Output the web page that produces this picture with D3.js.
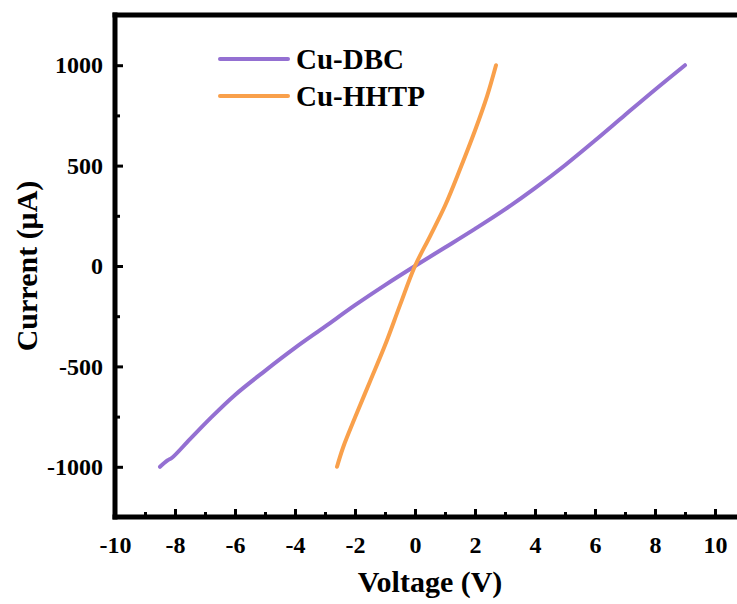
<!DOCTYPE html>
<html>
<head>
<meta charset="utf-8">
<script src="https://cdn.jsdelivr.net/npm/d3@7"></script>
<style>
    body { margin: 0; background: #fff; }
    text { font-family: "Liberation Serif", "Times New Roman", serif; font-weight: bold; fill: #000; }
</style>
</head>
<body>
<div class="box"></div>
<script>
// Cu-DBC
let dbcV = [-8.5, -8.25, -8.1, -7.5, -6.8, -6, -5, -4, -3, -2, -1, 0, 1, 2, 3, 4, 5, 6, 7, 8, 9]
let dbcI = [-1000, -968, -955, -862, -755, -642, -522, -408, -302, -195, -95, 0, 92, 185, 282, 388, 502, 625, 752, 878, 1000]

// Cu-HHTP
let hhtpV = [-2.6, -2.4, -2, -1.5, -1, -0.5, 0, 0.5, 1, 1.5, 2, 2.4, 2.7]
let hhtpI = [-1000, -905, -755, -575, -395, -195, 0, 148, 300, 482, 675, 845, 1000]

let xMajor = [-10, -8, -6, -4, -2, 0, 2, 4, 6, 8, 10]
let xMinor = [-9, -7, -5, -3, -1, 1, 3, 5, 7, 9]
let yMajor = [-1000, -500, 0, 500, 1000]
let yMinor = [-750, -250, 250, 750]

let seriesNames = ['Cu-DBC', 'Cu-HHTP']
let colors = ['#9470d2', '#f9a04b']

let serif = '"Liberation Serif", "Times New Roman", serif'

let W = 737, H = 604
let svg = d3.select('.box')
    .append('svg')
    .attr('width', W)
    .attr('height', H)

let x = d3.scaleLinear().domain([-10, 11]).range([115, 745])
let y = d3.scaleLinear().domain([-1250, 1250]).range([517, 15])

let fs = 24

// ticks, inward
let tickStyle = (g) => {
    g.attr('font-family', serif)
    g.select('.domain').remove()
    g.selectAll('.tick line').attr('stroke', '#000').attr('stroke-width', 3)
    g.selectAll('.tick text')
        .style('font-family', serif)
        .style('font-weight', 'bold')
        .style('font-size', fs + 'px')
        .attr('fill', '#000')
}

svg.append('g')
    .attr('transform', `translate(0,${y(-1250)})`)
    .call(d3.axisBottom(x).tickValues(xMajor).tickSizeInner(-8).tickSizeOuter(0).tickPadding(19).tickFormat(d => String(d)))
    .call(tickStyle)

svg.append('g')
    .attr('transform', `translate(0,${y(-1250)})`)
    .call(d3.axisBottom(x).tickValues(xMinor).tickSizeInner(-5).tickSizeOuter(0).tickFormat(''))
    .call(tickStyle)

svg.append('g')
    .attr('transform', `translate(${x(-10)},0)`)
    .call(d3.axisLeft(y).tickValues(yMajor).tickSizeInner(-8).tickSizeOuter(0).tickPadding(12).tickFormat(d => String(d)))
    .call(tickStyle)

svg.append('g')
    .attr('transform', `translate(${x(-10)},0)`)
    .call(d3.axisLeft(y).tickValues(yMinor).tickSizeInner(-5).tickSizeOuter(0).tickFormat(''))
    .call(tickStyle)

// frame
let frame = [
    [x(-10), y(-1250), x(11), y(-1250)],
    [x(-10), y(-1250), x(-10), y(1250)],
    [x(-10), y(1250), x(11), y(1250)],
    [x(11), y(-1250), x(11), y(1250)],
]
frame.forEach(f => {
    svg.append('line')
        .attr('x1', f[0]).attr('y1', f[1])
        .attr('x2', f[2]).attr('y2', f[3])
        .attr('stroke', '#000')
        .attr('stroke-width', 5)
        .attr('stroke-linecap', 'square')
})

// curves
let line = d3.line()
    .x(d => x(d[0]))
    .y(d => y(d[1]))
    .curve(d3.curveCatmullRom.alpha(0.5))

let series = [
    d3.zip(dbcV, dbcI),
    d3.zip(hhtpV, hhtpI),
]
series.forEach((s, i) => {
    svg.append('path')
        .datum(s)
        .attr('d', line)
        .attr('fill', 'none')
        .attr('stroke', colors[i])
        .attr('stroke-width', 4)
        .attr('stroke-linecap', 'round')
        .attr('stroke-linejoin', 'round')
})

// legend
seriesNames.forEach((name, i) => {
    let ly = 59 + i * 37
    svg.append('line')
        .attr('x1', 220).attr('x2', 288)
        .attr('y1', ly).attr('y2', ly)
        .attr('stroke', colors[i])
        .attr('stroke-width', 4)
        .attr('stroke-linecap', 'round')
    svg.append('text')
        .attr('x', 296)
        .attr('y', ly + 9.5)
        .style('font-size', '29px')
        .text(name)
})

// axis titles
svg.append('text')
    .attr('x', 430)
    .attr('y', 592)
    .attr('text-anchor', 'middle')
    .style('font-size', '30px')
    .text('Voltage (V)')

svg.append('text')
    .attr('transform', `translate(37,${y(0)}) rotate(-90)`)
    .attr('text-anchor', 'middle')
    .style('font-size', '30px')
    .text('Current (μA)')
</script>
</body>
</html>
